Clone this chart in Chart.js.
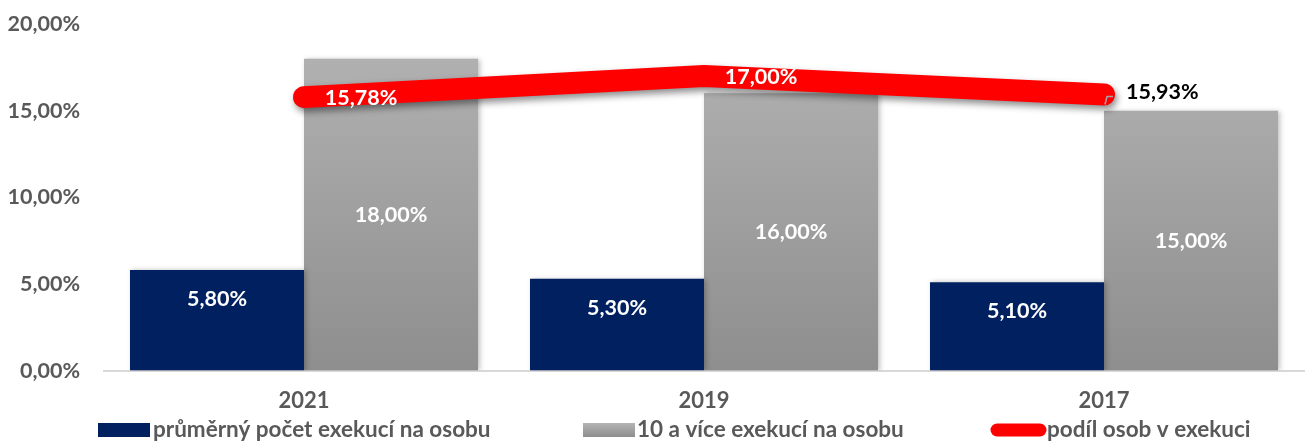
<!DOCTYPE html>
<html lang="cs">
<head>
<meta charset="UTF-8">
<title>Exekuce</title>
<script src="https://cdn.jsdelivr.net/npm/chart.js"></script>
<style>
    body { margin: 0; background: #ffffff; }
    .wrap { width: 1307px; height: 441px; position: relative; }
</style>
</head>
<body>
<div class="wrap"><canvas id="chart"></canvas></div>
<script>
// data
const years = ['2021', '2019', '2017'];
const avgPerPerson = [5.80, 5.30, 5.10];
const tenOrMore = [18.00, 16.00, 15.00];
const shareInExecution = [15.78, 17.00, 15.93];
const yTicks = [0, 5, 10, 15, 20];
const seriesNames = ['průměrný počet exekucí na osobu', '10 a více exekucí na osobu', 'podíl osob v exekuci'];

const FONT = 'Lato, "Liberation Sans", sans-serif';
const NAVY = '#002060';
const RED = '#ff0000';
const TEXT = '#595959';

function pct(v) {
    return v.toFixed(2).replace('.', ',') + '%';
}

function grayGradient(ctx, top, bottom) {
    const g = ctx.createLinearGradient(0, top, 0, bottom);
    g.addColorStop(0, '#b4b4b4');
    g.addColorStop(1, '#8e8e8e');
    return g;
}

// soft shadow under bars and line
const shadowPlugin = {
    id: 'shadows',
    beforeDatasetDraw(chart, args) {
        const ctx = chart.ctx;
        ctx.save();
        if (args.index === 2) {
            ctx.shadowColor = 'rgba(0,0,0,0.45)';
            ctx.shadowBlur = 7;
            ctx.shadowOffsetX = 2;
            ctx.shadowOffsetY = 4;
        } else {
            ctx.shadowColor = 'rgba(0,0,0,0.25)';
            ctx.shadowBlur = 5;
            ctx.shadowOffsetX = 2;
            ctx.shadowOffsetY = 0;
        }
    },
    afterDatasetDraw(chart) {
        chart.ctx.restore();
    }
};

const labelPlugin = {
    id: 'valueLabels',
    afterDatasetsDraw(chart) {
        const ctx = chart.ctx;
        ctx.save();
        ctx.font = 'bold 21.5px ' + FONT;
        ctx.textBaseline = 'middle';

        const navy = chart.getDatasetMeta(0).data;
        ctx.fillStyle = '#ffffff';
        ctx.textAlign = 'center';
        navy.forEach((bar, i) => {
            ctx.fillText(pct(avgPerPerson[i]), bar.x, bar.y + 29);
        });

        const gray = chart.getDatasetMeta(1).data;
        gray.forEach((bar, i) => {
            ctx.fillText(pct(tenOrMore[i]), bar.x, (bar.y + bar.base) / 2);
        });

        const pts = chart.getDatasetMeta(2).data;
        pts.forEach((p, i) => {
            if (i === pts.length - 1) {
                ctx.fillStyle = '#000000';
                ctx.textAlign = 'left';
                ctx.fillText(pct(shareInExecution[i]), p.x + 22, p.y - 2);
                ctx.strokeStyle = '#a6a6a6';
                ctx.lineWidth = 1.5;
                ctx.beginPath();
                ctx.moveTo(p.x + 1, p.y + 10);
                ctx.lineTo(p.x + 3, p.y + 2);
                ctx.lineTo(p.x + 9, p.y + 2);
                ctx.stroke();
            } else {
                ctx.fillStyle = '#ffffff';
                ctx.textAlign = 'center';
                ctx.fillText(pct(shareInExecution[i]), p.x + 57, p.y + 1);
            }
        });
        ctx.restore();
    }
};

const legendPlugin = {
    id: 'bottomLegend',
    afterDraw(chart) {
        const ctx = chart.ctx;
        const y = 430;
        ctx.save();
        ctx.font = 'bold 22.5px ' + FONT;
        ctx.textBaseline = 'middle';
        ctx.textAlign = 'left';

        ctx.fillStyle = NAVY;
        ctx.fillRect(98, y - 7, 52, 14);
        ctx.fillStyle = TEXT;
        ctx.fillText(seriesNames[0], 153, y);

        ctx.fillStyle = grayGradient(ctx, y - 7, y + 7);
        ctx.fillRect(583, y - 7, 52, 14);
        ctx.fillStyle = TEXT;
        ctx.fillText(seriesNames[1], 637, y);

        ctx.strokeStyle = RED;
        ctx.lineWidth = 13;
        ctx.lineCap = 'round';
        ctx.beginPath();
        ctx.moveTo(997, y);
        ctx.lineTo(1040, y);
        ctx.stroke();
        ctx.fillStyle = TEXT;
        ctx.fillText(seriesNames[2], 1047, y);
        ctx.restore();
    }
};

const ctx = document.getElementById('chart').getContext('2d');
new Chart(ctx, {
    data: {
        labels: years,
        datasets: [
            {
                type: 'bar',
                label: seriesNames[0],
                data: avgPerPerson,
                backgroundColor: NAVY,
                order: 2,
                categoryPercentage: 0.87,
                barPercentage: 1.0
            },
            {
                type: 'bar',
                label: seriesNames[1],
                data: tenOrMore,
                backgroundColor: (c) => {
                    const area = c.chart.chartArea;
                    if (!area) return '#a0a0a0';
                    return grayGradient(c.chart.ctx, area.top, area.bottom);
                },
                order: 2,
                categoryPercentage: 0.87,
                barPercentage: 1.0
            },
            {
                type: 'line',
                label: seriesNames[2],
                data: shareInExecution,
                borderColor: RED,
                backgroundColor: RED,
                borderWidth: 22,
                borderCapStyle: 'round',
                borderJoinStyle: 'round',
                pointRadius: 0,
                tension: 0,
                order: 1
            }
        ]
    },
    options: {
        responsive: true,
        maintainAspectRatio: false,
        animation: false,
        layout: { padding: { top: 24, right: 3, bottom: 10, left: 0 } },
        plugins: {
            legend: { display: false },
            tooltip: { enabled: false }
        },
        scales: {
            x: {
                grid: { display: false, drawTicks: false },
                border: { display: true, color: '#d9d9d9', width: 2 },
                ticks: {
                    padding: 17,
                    color: TEXT,
                    font: { family: FONT, size: 22, weight: 'bold' }
                }
            },
            y: {
                min: 0,
                max: 20,
                afterFit(scale) {
                    scale.width = 104;
                    scale.paddingTop = 0;
                    scale.paddingBottom = 0;
                },
                afterBuildTicks(scale) {
                    scale.ticks = yTicks.map(v => ({ value: v }));
                },
                grid: { display: false, drawTicks: false },
                border: { display: false },
                ticks: {
                    padding: 24,
                    color: TEXT,
                    font: { family: FONT, size: 21.5, weight: 'bold' },
                    callback: (v) => pct(v)
                }
            }
        }
    },
    plugins: [shadowPlugin, labelPlugin, legendPlugin]
});
</script>
</body>
</html>
